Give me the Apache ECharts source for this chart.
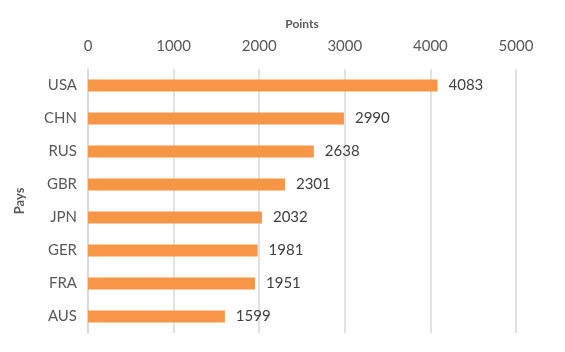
<!DOCTYPE html>
<html>
<head>
<meta charset="utf-8">
<script src="https://cdn.jsdelivr.net/npm/echarts@6/dist/echarts.min.js"></script>
<style>
html,body{margin:0;padding:0;background:#fff;}
#main{width:565px;height:352px;}
</style>
</head>
<body>
<div id="main"></div>
<script>
// données
var pays = ['USA', 'CHN', 'RUS', 'GBR', 'JPN', 'GER', 'FRA', 'AUS'];
var points = [4083, 2990, 2638, 2301, 2032, 1981, 1951, 1599];

var myChart = echarts.init(document.getElementById('main'));
var font = 'Lato, "DejaVu Sans", sans-serif';
var options = {
    animation: false,
    grid: {
        left: 88,
        right: 49,
        top: 69,
        bottom: 19
    },
    xAxis: {
        type: 'value',
        position: 'top',
        min: 0,
        max: 5000,
        interval: 1000,
        name: 'Points',
        nameLocation: 'middle',
        nameGap: 39,
        nameTextStyle: {
            color: '#595959',
            fontSize: 12,
            fontWeight: 'bold',
            fontFamily: font
        },
        axisLine: { show: false },
        axisTick: { show: false },
        axisLabel: {
            color: '#595959',
            fontSize: 15,
            fontFamily: font,
            margin: 15,
            formatter: function (v) { return String(v); }
        },
        splitLine: {
            show: true,
            lineStyle: { color: '#d9d9d9', width: 1.5 }
        }
    },
    yAxis: {
        type: 'category',
        inverse: true,
        data: pays,
        name: 'Pays',
        nameLocation: 'middle',
        nameGap: 62,
        nameRotate: 90,
        nameTextStyle: {
            color: '#595959',
            fontSize: 13,
            fontWeight: 'bold',
            fontFamily: font
        },
        axisLine: {
            show: true,
            lineStyle: { color: '#d9d9d9', width: 1.5 }
        },
        axisTick: { show: false },
        axisLabel: {
            color: '#595959',
            fontSize: 15,
            fontFamily: font,
            margin: 11
        }
    },
    series: [
        {
            type: 'bar',
            data: points,
            barWidth: 12,
            itemStyle: { color: '#F79646' },
            label: {
                show: true,
                position: 'right',
                distance: 11,
                color: '#404040',
                fontSize: 15,
                fontFamily: font
            }
        }
    ]
};
myChart.setOption(options);
</script>
</body>
</html>
